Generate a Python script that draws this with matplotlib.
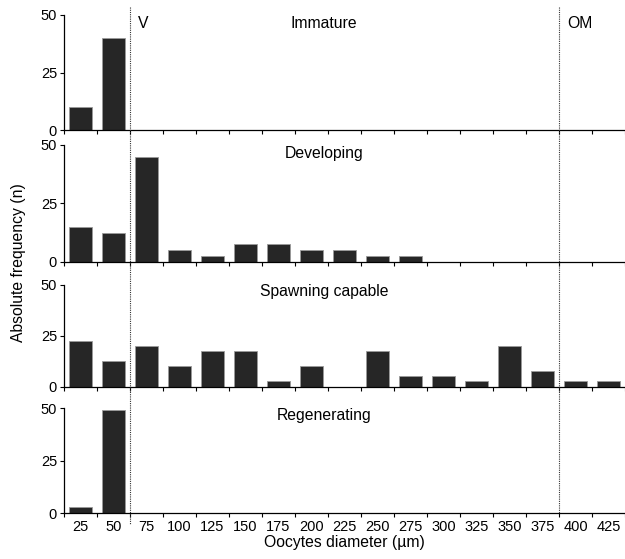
import matplotlib.pyplot as plt
import matplotlib.transforms as mtrans
from matplotlib.lines import Line2D

plt.rcParams['font.family'] = ['Liberation Sans', 'DejaVu Sans']

diameters = ["25", "50", "75", "100", "125", "150", "175", "200", "225",
             "250", "275", "300", "325", "350", "375", "400", "425"]

immature = [10, 40, 0, 0, 0, 0, 0, 0, 0, 0, 0, 0, 0, 0, 0, 0, 0]
developing = [15, 12.5, 45, 5, 2.5, 7.5, 7.5, 5, 5, 2.5, 2.5, 0, 0, 0, 0, 0, 0]
spawning = [22.5, 12.5, 20, 10, 17.5, 17.5, 3, 10, 0, 17.5, 5, 5, 3, 20, 7.5, 3, 3]
regenerating = [3, 49, 0, 0, 0, 0, 0, 0, 0, 0, 0, 0, 0, 0, 0, 0, 0]

phases = ["Immature", "Developing", "Spawning capable", "Regenerating"]
counts = [immature, developing, spawning, regenerating]

fig = plt.figure(figsize=(6.25, 5.59), dpi=100)

# axes boxes in figure fraction (left, bottom, width, height)
boxes = [
    (64 / 625, 1 - 130 / 559, 561 / 625, 115 / 559),
    (64 / 625, 1 - 261.7 / 559, 561 / 625, 116.7 / 559),
    (64 / 625, 1 - 386.7 / 559, 561 / 625, 102 / 559),
    (64 / 625, 1 - 513.3 / 559, 561 / 625, 105 / 559),
]

x = list(range(len(diameters)))
axes = []
for i, (name, vals) in enumerate(zip(phases, counts)):
    ax = fig.add_axes(boxes[i])
    ax.bar(x, vals, width=0.68, color='#262626', edgecolor='#9a9a9a', linewidth=0.6)
    ax.set_xlim(-0.5, 16.5)
    ax.set_ylim(0, 50)
    ax.set_yticks([0, 25, 50])
    ax.tick_params(axis='y', labelsize=10.5, length=3, width=0.8, pad=2)
    ax.set_xticks([k - 0.5 for k in range(18)])
    ax.set_xticklabels([])
    ax.tick_params(axis='x', length=3, width=0.8)
    ax.set_xticks(x, minor=True)
    ax.tick_params(axis='x', which='minor', length=0, labelsize=10.5, pad=5)
    if i == 3:
        ax.set_xticklabels(diameters, minor=True)
    else:
        ax.set_xticklabels([], minor=True)
    for s in ('top', 'right'):
        ax.spines[s].set_visible(False)
    ax.spines['left'].set_linewidth(0.9)
    ax.spines['bottom'].set_linewidth(0.9)
    ax.text(0.464, 0.93, name, transform=ax.transAxes, ha='center', va='center',
            fontsize=11.3)
    axes.append(ax)

axes[0].text(1.75, 46.5, "V", ha='left', va='center', fontsize=11.3)
axes[0].text(14.75, 46.5, "OM", ha='left', va='center', fontsize=11.3)

# dotted phase limits crossing all panels
tr = mtrans.blended_transform_factory(axes[3].transData, fig.transFigure)
fig.add_artist(Line2D([1.5, 1.5], [1 - 7 / 559, 1 - 524 / 559], transform=tr,
                      color='#333333', lw=0.8, linestyle=(0, (1, 1))))
fig.add_artist(Line2D([14.5, 14.5], [1 - 7 / 559, 1 - 513 / 559], transform=tr,
                      color='#333333', lw=0.8, linestyle=(0, (1, 1))))

fig.text(0.03, 1 - 263 / 559, "Absolute frequency (n)", rotation=90, ha='center',
         va='center', fontsize=11.3)
fig.text(0.551, 1 - 543 / 559, "Oocytes diameter (µm)", ha='center', va='center',
         fontsize=11.3)

fig.savefig("out.png", dpi=100)
